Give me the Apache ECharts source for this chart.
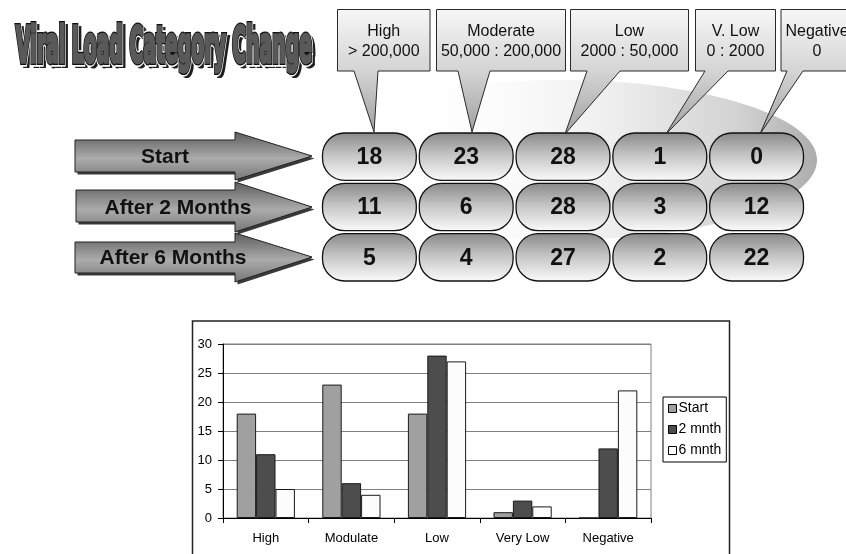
<!DOCTYPE html>
<html><head><meta charset="utf-8">
<script src="https://cdn.jsdelivr.net/npm/echarts@6/dist/echarts.min.js"></script>
<style>html,body{margin:0;padding:0;background:#fff}#c{width:846px;height:554px}</style>
</head><body><div id="c"></div>
<script>
// ---------------- data ----------------
const titleText = 'Viral Load Category Change';
const loadNames = ['High', 'Moderate', 'Low', 'V. Low', 'Negative'];
const loadRanges = ['> 200,000', '50,000 : 200,000', '2000 : 50,000', '0 : 2000', '0'];
const stageLabels = ['Start', 'After 2 Months', 'After 6 Months'];
const tableStart = [18, 23, 28, 1, 0];
const table2Months = [11, 6, 28, 3, 12];
const table6Months = [5, 4, 27, 2, 22];

const chartCategories = ['High', 'Modulate', 'Low', 'Very Low', 'Negative'];
const seriesNames = ['Start', '2 mnth', '6 mnth'];
const chartStart = [18, 23, 18, 1, 0];
const chart2Mnth = [11, 6, 28, 3, 12];
const chart6Mnth = [5, 4, 27, 2, 22];
const yMin = 0, yMax = 30, yStep = 5;

// ---------------- layout / style ----------------
const FONT = '"Liberation Sans", Arial, sans-serif';
const TFONT = '"DejaVu Sans Condensed", "DejaVu Sans", sans-serif';

const calloutLayout = [
  { x0: 337.5, x1: 430, b0: 354, b1: 378, tip: [374, 132] },
  { x0: 436.5, x1: 565.5, b0: 458, b1: 490, tip: [472, 132] },
  { x0: 570.5, x1: 688.5, b0: 587, b1: 620, tip: [565, 134] },
  { x0: 695.5, x1: 775.5, b0: 705, b1: 728, tip: [666, 134] },
  { x0: 781, x1: 853, b0: 787, b1: 803, tip: [760, 134] }
];
const boxTop = 9.5, boxBottom = 71;

const arrowLayout = [
  { l: 75, bt: 140, bb: 172, hx: 235, ht: 132, hb: 180, tx: 312, ty: 156, cx: 165 },
  { l: 76, bt: 190, bb: 222, hx: 235, ht: 182, hb: 232, tx: 312, ty: 207, cx: 178 },
  { l: 75, bt: 242, bb: 273, hx: 235, ht: 233, hb: 282, tx: 312, ty: 257, cx: 173 }
];

const graphics = [];

// frame of bar chart
graphics.push({
  type: 'rect', z: 1, silent: true,
  shape: { x: 192.5, y: 321, width: 537, height: 300 },
  style: { fill: 'none', stroke: '#222', lineWidth: 1.5 }
});

// swoosh shadow ellipse
graphics.push({
  type: 'ellipse', z: 1, silent: true,
  shape: { cx: 560, cy: 160, rx: 257, ry: 80 },
  style: {
    fill: { type: 'linear', x: 0, y: 0, x2: 1, y2: 0, colorStops: [
      { offset: 0, color: 'rgba(255,255,255,0)' },
      { offset: 0.35, color: 'rgba(250,250,250,0.5)' },
      { offset: 0.6, color: '#eeeeee' },
      { offset: 0.85, color: '#d2d2d2' },
      { offset: 1, color: '#acacac' }
    ] }
  }
});

// title (word-art style)
const tctx = document.createElement('canvas').getContext('2d');
tctx.font = 'bold 40px ' + TFONT;
const tw = tctx.measureText(titleText).width;
const tsx = 296 / tw, tsy = 36 / (40 * 0.729);
const titleBase = { x: 16, y: 49, scaleX: tsx, scaleY: tsy, silent: true };
function titleLayer(z, dx, dy, fill, stroke, lw) {
  return Object.assign({}, titleBase, {
    type: 'text', z: z, x: titleBase.x + dx, y: titleBase.y + dy,
    style: { text: titleText, x: 0, y: 0, align: 'left', verticalAlign: 'middle', font: 'bold 40px ' + TFONT, fill: fill, stroke: stroke, lineWidth: lw }
  });
}
graphics.push(titleLayer(5, 3, 3, '#1e1e1e', '#1e1e1e', 5));
graphics.push(titleLayer(6, 0, 0, '#fff', '#fff', 7.5));
graphics.push(titleLayer(7, 0, 0, '#111', '#111', 5));
graphics.push(titleLayer(8, 0, 0, '#595959', '#595959', 2.8));

// callouts
calloutLayout.forEach((g, i) => {
  graphics.push({
    type: 'polygon', z: 8, silent: true,
    shape: { points: [[g.x0, boxTop], [g.x1, boxTop], [g.x1, boxBottom], [g.b1, boxBottom], g.tip, [g.b0, boxBottom], [g.x0, boxBottom]] },
    style: {
      fill: { type: 'linear', x: 0, y: 0, x2: 0, y2: 1, colorStops: [
        { offset: 0, color: '#f7f7f7' },
        { offset: 0.5, color: '#d4d4d4' },
        { offset: 1, color: '#a0a0a0' }
      ] },
      stroke: '#2a2a2a', lineWidth: 1
    }
  });
  graphics.push({
    type: 'text', z: 9, silent: true,
    style: {
      text: loadNames[i] + '\n' + loadRanges[i],
      x: (g.x0 + g.x1) / 2, y: 41.5, align: 'center', verticalAlign: 'middle',
      font: '16px ' + FONT, lineHeight: 20, fill: '#111'
    }
  });
});

// stage arrows
arrowLayout.forEach((a, i) => {
  const pts = [[a.l, a.bt], [a.hx, a.bt], [a.hx, a.ht], [a.tx, a.ty], [a.hx, a.hb], [a.hx, a.bb], [a.l, a.bb]];
  graphics.push({
    type: 'polygon', z: 8, silent: true,
    shape: { points: pts.map(p => [p[0] + 2.5, p[1] + 2.5]) },
    style: { fill: '#3a3a3a' }
  });
  graphics.push({
    type: 'polygon', z: 9, silent: true,
    shape: { points: pts },
    style: {
      fill: { type: 'linear', x: 0, y: 0, x2: 0, y2: 1, colorStops: [
        { offset: 0, color: '#5c5c5c' },
        { offset: 0.55, color: '#ababab' },
        { offset: 1, color: '#767676' }
      ] },
      stroke: '#222', lineWidth: 1
    }
  });
  graphics.push({
    type: 'text', z: 10, silent: true,
    style: { text: stageLabels[i], x: a.cx, y: a.ty + 1, align: 'center', verticalAlign: 'middle', font: 'bold 21px ' + FONT, fill: '#111' }
  });
});

// pill cells from tables
const tableRows = [tableStart, table2Months, table6Months];
const cellData = [];
tableRows.forEach((row, r) => row.forEach((v, c) => cellData.push([c, r, v])));

const pillFill = { type: 'linear', x: 0, y: 0, x2: 0, y2: 1, colorStops: [
  { offset: 0, color: '#888888' },
  { offset: 0.45, color: '#c3c3c3' },
  { offset: 1, color: '#fbfbfb' }
] };

const chart = echarts.init(document.getElementById('c'), null, { renderer: 'canvas' });
chart.setOption({
  backgroundColor: '#fff',
  animation: false,
  graphic: { elements: graphics },
  grid: [
    { left: 223, right: 195, top: 344, bottom: 36, show: true, borderColor: '#808080', borderWidth: 1, backgroundColor: 'transparent', outerBoundsMode: 'none', containLabel: false },
    { left: 321, right: 41, top: 131.5, bottom: 271.5, show: false, outerBoundsMode: 'none', containLabel: false }
  ],
  legend: {
    data: seriesNames, orient: 'vertical', left: 663, top: 397,
    padding: [4, 5, 4, 5], itemGap: 6, itemWidth: 8, itemHeight: 8, icon: 'rect',
    borderColor: '#000', borderWidth: 1, backgroundColor: '#fff',
    itemStyle: { borderColor: '#000', borderWidth: 1 },
    textStyle: { fontFamily: FONT, fontSize: 14, color: '#000', lineHeight: 15, padding: [0, 0, 0, -3] },
    z: 5
  },
  xAxis: [
    {
      type: 'category', gridIndex: 0, data: chartCategories,
      axisLine: { show: true, lineStyle: { color: '#000', width: 1 } },
      axisTick: { show: true, length: 5, alignWithLabel: false, lineStyle: { color: '#000' } },
      axisLabel: { fontFamily: FONT, fontSize: 13, color: '#000', margin: 14 },
      splitLine: { show: false }
    },
    { type: 'category', gridIndex: 1, data: loadNames, show: false }
  ],
  yAxis: [
    {
      type: 'value', gridIndex: 0, min: yMin, max: yMax, interval: yStep,
      axisLine: { show: true, lineStyle: { color: '#000', width: 1 } },
      axisTick: { show: true, length: 5, lineStyle: { color: '#000' } },
      axisLabel: { fontFamily: FONT, fontSize: 13, color: '#000', margin: 11 },
      splitLine: { show: true, lineStyle: { color: '#808080', width: 1 } }
    },
    { type: 'category', gridIndex: 1, data: stageLabels, inverse: true, show: false }
  ],
  series: [
    {
      name: seriesNames[0], type: 'bar', xAxisIndex: 0, yAxisIndex: 0, data: chartStart,
      barGap: '0%', barCategoryGap: '32%',
      itemStyle: { color: '#a0a0a0', borderColor: '#1a1a1a', borderWidth: 1 }
    },
    {
      name: seriesNames[1], type: 'bar', xAxisIndex: 0, yAxisIndex: 0, data: chart2Mnth,
      barGap: '0%', barCategoryGap: '32%',
      itemStyle: { color: '#4d4d4d', borderColor: '#1a1a1a', borderWidth: 1 }
    },
    {
      name: seriesNames[2], type: 'bar', xAxisIndex: 0, yAxisIndex: 0, data: chart6Mnth,
      barGap: '0%', barCategoryGap: '32%',
      itemStyle: { color: '#fcfcfc', borderColor: '#1a1a1a', borderWidth: 1 }
    },
    {
      name: 'cells', type: 'custom', xAxisIndex: 1, yAxisIndex: 1, z: 5, silent: true,
      data: cellData,
      renderItem: function (params, api) {
        const p = api.coord([api.value(0), api.value(1)]);
        const s = api.size([1, 1]);
        const w = s[0] - 3, h = s[1] - 3;
        return {
          type: 'group',
          children: [
            { type: 'rect', shape: { x: p[0] - w / 2, y: p[1] - h / 2, width: w, height: h, r: 22 },
              style: { fill: pillFill, stroke: '#111', lineWidth: 1.3 } },
            { type: 'text', style: { text: String(api.value(2)), x: p[0], y: p[1] + 1, align: 'center', verticalAlign: 'middle',
              font: 'bold 23px ' + FONT, fill: '#111' } }
          ]
        };
      }
    }
  ]
});
</script>
</body></html>
